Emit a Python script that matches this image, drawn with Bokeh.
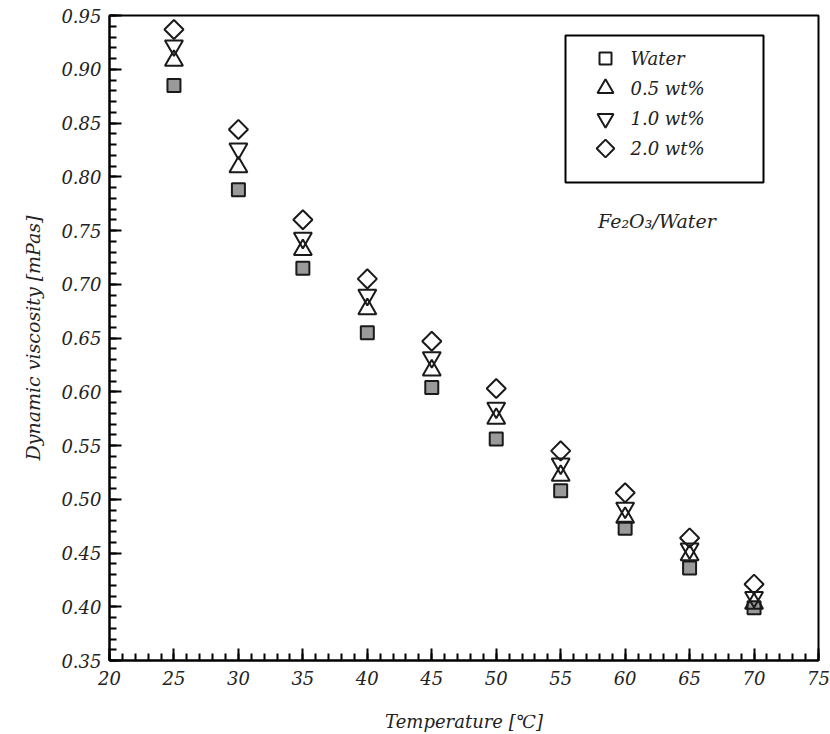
import numpy as np
from bokeh.plotting import figure
from bokeh.models import (ColumnDataSource, Range1d, FixedTicker, PrintfTickFormatter, Label)
from bokeh.core.properties import value
from bokeh.embed import file_html
from bokeh.resources import INLINE

# ---- data ----
temperature = [25, 30, 35, 40, 45, 50, 55, 60, 65, 70]
water = [0.885, 0.788, 0.715, 0.655, 0.604, 0.556, 0.508, 0.473, 0.436, 0.399]
wt05 = [0.908, 0.809, 0.732, 0.677, 0.620, 0.575, 0.522, 0.483, 0.448, 0.403]
wt10 = [0.922, 0.826, 0.743, 0.690, 0.632, 0.585, 0.533, 0.492, 0.454, 0.409]
wt20 = [0.937, 0.844, 0.760, 0.705, 0.647, 0.603, 0.545, 0.506, 0.464, 0.421]
series_names = ["Water", "0.5 wt%", "1.0 wt%", "2.0 wt%"]
y_ticks = [0.35, 0.40, 0.45, 0.50, 0.55, 0.60, 0.65, 0.70, 0.75, 0.80, 0.85, 0.90, 0.95]
x_ticks = [20, 25, 30, 35, 40, 45, 50, 55, 60, 65, 70, 75]

FONT = "DejaVu Serif"
TXT = "#222222"
INK = "#1a1a1a"

FRAME_W, FRAME_H = 709, 645

p = figure(width=830, height=734, output_backend="svg", toolbar_location=None,
           x_range=Range1d(20, 75), y_range=Range1d(0.35, 0.95),
           min_border_left=109, min_border_right=12, min_border_top=15, min_border_bottom=74,
           background_fill_color="white", border_fill_color="white")
p.xgrid.visible = False
p.ygrid.visible = False
p.outline_line_color = "black"
p.outline_line_width = 2
p.outline_line_alpha = 1

# pixel-like ranges for the legend box (origin top-left of the frame)
p.extra_x_ranges = {"leg_x": Range1d(0, FRAME_W)}
p.extra_y_ranges = {"leg_y": Range1d(FRAME_H, 0)}

src = ColumnDataSource(dict(t=temperature, water=water, wt05=wt05, wt10=wt10, wt20=wt20))

p.scatter("t", "water", source=src, marker="square", size=13,
          fill_color="#9a9a9a", line_color=INK, line_width=2)
p.scatter("t", "wt05", source=src, marker="triangle", size=18,
          fill_color=None, line_color=INK, line_width=2)
p.scatter("t", "wt10", source=src, marker="inverted_triangle", size=18,
          fill_color=None, line_color=INK, line_width=2)
p.scatter("t", "wt20", source=src, marker="square", angle=np.pi / 4, size=13.5,
          fill_color=None, line_color=INK, line_width=2)

# axes
for ax in (p.xaxis[0], p.yaxis[0]):
    ax.axis_line_width = 2
    ax.axis_line_color = "black"
    ax.major_tick_in = 12
    ax.major_tick_out = 0
    ax.minor_tick_in = 7
    ax.minor_tick_out = 0
    ax.major_tick_line_width = 2
    ax.minor_tick_line_width = 2
    ax.major_tick_line_color = "black"
    ax.minor_tick_line_color = "black"
    ax.major_label_text_font = FONT
    ax.major_label_text_font_style = "italic"
    ax.major_label_text_font_size = "18px"
    ax.major_label_text_color = TXT
    ax.axis_label_text_font = FONT
    ax.axis_label_text_font_style = "italic"
    ax.axis_label_text_color = TXT

p.yaxis[0].ticker = FixedTicker(ticks=y_ticks,
                                minor_ticks=[round(0.35 + 0.01 * i, 2) for i in range(61)])
p.yaxis[0].formatter = PrintfTickFormatter(format="%.2f")
p.yaxis[0].major_label_standoff = 8
p.yaxis[0].axis_label = "Dynamic viscosity [mPas]"
p.yaxis[0].axis_label_text_font_size = "19px"
p.yaxis[0].axis_label_standoff = 14

p.xaxis[0].ticker = FixedTicker(ticks=x_ticks, minor_ticks=list(range(20, 76)))
p.xaxis[0].major_label_standoff = 10
p.xaxis[0].axis_label = "Temperature [\u2103]"
p.xaxis[0].axis_label_text_font_size = "18px"
p.xaxis[0].axis_label_standoff = 23

# ---- legend box (drawn in frame-pixel coordinates) ----
leg_left, leg_right, leg_top, leg_bottom = 456, 654, 20, 167
leg_mark_x, leg_text_x = 496, 521
leg_rows = [43, 73, 103, 133]
p.quad(left=[leg_left], right=[leg_right], top=[leg_top], bottom=[leg_bottom],
       fill_color="white", line_color="black", line_width=2,
       x_range_name="leg_x", y_range_name="leg_y")
leg_src = ColumnDataSource(dict(x=[leg_mark_x] * 4, y=leg_rows,
                                marker=["square", "triangle", "inverted_triangle", "square"],
                                size=[12, 16, 16, 12.5],
                                angle=[0, 0, 0, np.pi / 4],
                                tx=[leg_text_x] * 4, label=series_names))
p.scatter("x", "y", source=leg_src, marker="marker", size="size", angle="angle",
          fill_color=None, line_color=INK, line_width=2,
          x_range_name="leg_x", y_range_name="leg_y")
p.text("tx", "y", text="label", source=leg_src, text_font=value(FONT),
       text_font_style="italic", text_font_size="18px", text_color=TXT,
       text_baseline="middle", x_range_name="leg_x", y_range_name="leg_y")

p.add_layout(Label(x=57.9, y=0.759, text="Fe\u2082O\u2083/Water", text_font=FONT,
                   text_font_style="italic", text_font_size="19px", text_color=TXT,
                   text_baseline="middle"))

html = file_html(p, INLINE)
open("out.html", "w").write(html)
